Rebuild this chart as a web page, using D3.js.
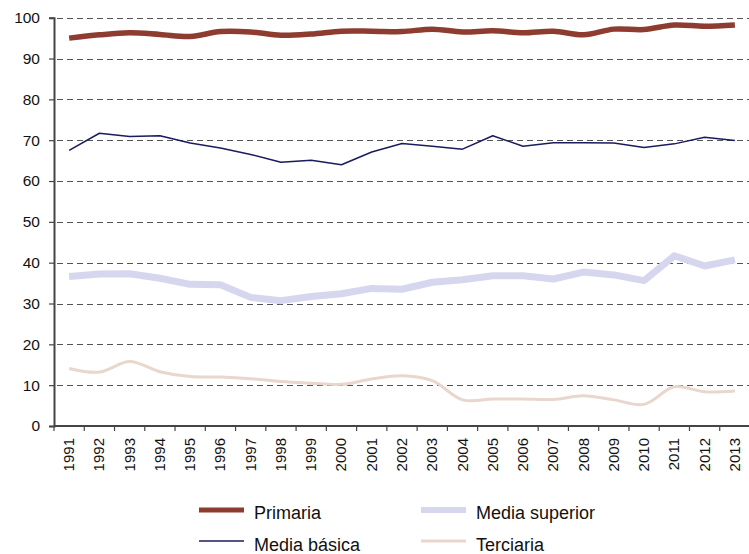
<!DOCTYPE html>
<html>
<head>
<meta charset="utf-8">
<script src="https://cdn.jsdelivr.net/npm/d3@7"></script>
<style>
  body { margin: 0; background: #fff; }
  svg { display: block; font-family: "Liberation Sans", Arial, sans-serif; }
</style>
</head>
<body>
<div id="chart"></div>
<script>
// years on the x axis
const years = d3.range(1991, 2014).map(String);

// enrolment rates by level
const primaria = [95.0, 95.8, 96.3, 95.9, 95.4, 96.6, 96.5, 95.7, 96.0, 96.7, 96.7, 96.6,
                  97.2, 96.5, 96.8, 96.3, 96.7, 95.8, 97.2, 97.1, 98.2, 97.9, 98.2];
const mediaBasica = [67.5, 71.7, 70.9, 71.1, 69.3, 68.1, 66.5, 64.6, 65.1, 64.0, 67.1, 69.2,
                     68.5, 67.8, 71.1, 68.5, 69.4, 69.4, 69.3, 68.2, 69.1, 70.7, 69.9];
const mediaSuperior = [36.6, 37.2, 37.3, 36.2, 34.7, 34.6, 31.5, 30.7, 31.7, 32.4, 33.7, 33.5,
                       35.2, 35.8, 36.8, 36.8, 36.0, 37.7, 37.0, 35.6, 41.7, 39.2, 40.7];
const terciaria = [14.1, 13.2, 15.8, 13.3, 12.1, 12.0, 11.6, 10.9, 10.5, 10.2, 11.5, 12.3,
                   11.1, 6.4, 6.6, 6.6, 6.5, 7.4, 6.4, 5.3, 9.6, 8.4, 8.6];

const yTicks = [0, 10, 20, 30, 40, 50, 60, 70, 80, 90, 100];

const series = [
  { name: "Media superior", values: mediaSuperior, color: "#d6d7ee", width: 7, smooth: false },
  { name: "Terciaria", values: terciaria, color: "#e9d6cd", width: 3, smooth: true },
  { name: "Media básica", values: mediaBasica, color: "#1b1b5e", width: 1.5, smooth: false },
  { name: "Primaria", values: primaria, color: "#8e3c2f", width: 5.5, smooth: true }
];

const legendItems = [
  { name: "Primaria", color: "#8e3c2f", width: 5, col: 0, row: 0 },
  { name: "Media básica", color: "#1b1b5e", width: 1.5, col: 0, row: 1 },
  { name: "Media superior", color: "#d6d7ee", width: 6, col: 1, row: 0 },
  { name: "Terciaria", color: "#e9d6cd", width: 3, col: 1, row: 1 }
];

const width = 749, height = 554;
const plotLeft = 54, plotRight = 750, plotTop = 17.7, plotBottom = 426;

const svg = d3.select("#chart").append("svg")
  .attr("width", width)
  .attr("height", height);

const x = d3.scaleBand().domain(years).range([plotLeft, plotRight]);
const y = d3.scaleLinear().domain([0, 100]).range([plotBottom, plotTop]);

// dashed gridlines
svg.append("g")
  .selectAll("line")
  .data(yTicks.filter(d => d > 0))
  .enter()
  .append("line")
  .attr("x1", plotLeft + 3)
  .attr("x2", width)
  .attr("y1", d => Math.round(y(d)) + 0.5)
  .attr("y2", d => Math.round(y(d)) + 0.5)
  .attr("stroke", "#555")
  .attr("stroke-width", 1)
  .attr("stroke-dasharray", "6,4");

// y axis
const yAxis = svg.append("g")
  .attr("transform", `translate(${plotLeft},0)`)
  .call(d3.axisLeft(y).tickValues(yTicks).tickSize(5).tickPadding(9));
yAxis.select(".domain").attr("stroke", "#444").attr("stroke-width", 2);
yAxis.selectAll(".tick line").attr("stroke", "#444").attr("stroke-width", 1.2);
yAxis.selectAll(".tick text")
  .attr("font-size", "15.5px")
  .attr("fill", "#111")
  .style("font-family", "Liberation Sans, Arial, sans-serif");

// x axis with ticks between categories
const xAxis = svg.append("g")
  .attr("transform", `translate(0,${plotBottom})`);
xAxis.append("line")
  .attr("x1", plotLeft).attr("x2", width)
  .attr("stroke", "#444").attr("stroke-width", 2);
xAxis.selectAll("line.tk")
  .data(years.concat(["end"]))
  .enter()
  .append("line")
  .attr("class", "tk")
  .attr("x1", (d, i) => plotLeft + i * x.bandwidth())
  .attr("x2", (d, i) => plotLeft + i * x.bandwidth())
  .attr("y1", 0).attr("y2", 5)
  .attr("stroke", "#444").attr("stroke-width", 1.2);
xAxis.selectAll("text")
  .data(years)
  .enter()
  .append("text")
  .attr("transform", d => `translate(${x(d) + x.bandwidth() / 2 + 5},12) rotate(-90)`)
  .attr("text-anchor", "end")
  .attr("font-size", "15px")
  .attr("fill", "#111")
  .text(d => d);

// lines
series.forEach(s => {
  const line = d3.line()
    .x((d, i) => x(years[i]) + x.bandwidth() / 2)
    .y(d => y(d))
    .curve(s.smooth ? d3.curveCatmullRom.alpha(0.5) : d3.curveLinear);
  svg.append("path")
    .datum(s.values)
    .attr("d", line)
    .attr("fill", "none")
    .attr("stroke", s.color)
    .attr("stroke-width", s.width)
    .attr("stroke-linejoin", "round");
});

// legend
const legend = svg.append("g");
legendItems.forEach(item => {
  const lx = item.col === 0 ? 199 : 421;
  const ly = item.row === 0 ? 510 : 541;
  legend.append("line")
    .attr("x1", lx).attr("x2", lx + 45)
    .attr("y1", ly).attr("y2", ly)
    .attr("stroke", item.color)
    .attr("stroke-width", item.width);
  legend.append("text")
    .attr("x", lx + 55)
    .attr("y", ly + (item.row === 0 ? 3 : 4))
    .attr("dy", "0.35em")
    .attr("font-size", "18px")
    .attr("fill", "#111")
    .text(item.name);
});
</script>
</body>
</html>
